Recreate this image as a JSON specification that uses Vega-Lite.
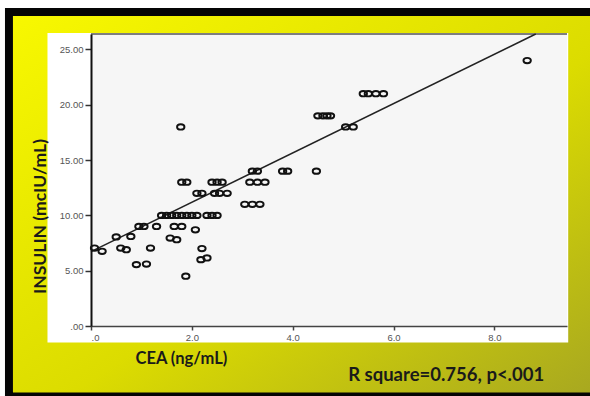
{
  "$schema": "https://vega.github.io/schema/vega-lite/v6.json",
  "width": 476,
  "height": 292,
  "autosize": {"type": "none"},
  "padding": {"left": 91, "top": 34, "right": 23, "bottom": 70},
  "background": "white",
  "config": {"view": {"stroke": null}, "font": "Lato"},
  "data": {"values": [{}]},
  "datasets": {
    "points": [
      {"CEA": 8.65, "INSULIN": 24},
      {"CEA": 5.4, "INSULIN": 21}, {"CEA": 5.5, "INSULIN": 21}, {"CEA": 5.65, "INSULIN": 21}, {"CEA": 5.8, "INSULIN": 21},
      {"CEA": 4.5, "INSULIN": 19}, {"CEA": 4.6, "INSULIN": 19}, {"CEA": 4.68, "INSULIN": 19}, {"CEA": 4.75, "INSULIN": 19},
      {"CEA": 5.05, "INSULIN": 18}, {"CEA": 5.2, "INSULIN": 18}, {"CEA": 1.78, "INSULIN": 18},
      {"CEA": 3.2, "INSULIN": 14}, {"CEA": 3.3, "INSULIN": 14}, {"CEA": 3.8, "INSULIN": 14}, {"CEA": 3.9, "INSULIN": 14}, {"CEA": 4.47, "INSULIN": 14},
      {"CEA": 1.8, "INSULIN": 13}, {"CEA": 1.9, "INSULIN": 13}, {"CEA": 2.4, "INSULIN": 13}, {"CEA": 2.5, "INSULIN": 13}, {"CEA": 2.6, "INSULIN": 13}, {"CEA": 3.15, "INSULIN": 13}, {"CEA": 3.3, "INSULIN": 13}, {"CEA": 3.45, "INSULIN": 13},
      {"CEA": 2.1, "INSULIN": 12}, {"CEA": 2.2, "INSULIN": 12}, {"CEA": 2.45, "INSULIN": 12}, {"CEA": 2.55, "INSULIN": 12}, {"CEA": 2.7, "INSULIN": 12},
      {"CEA": 3.05, "INSULIN": 11}, {"CEA": 3.2, "INSULIN": 11}, {"CEA": 3.35, "INSULIN": 11},
      {"CEA": 1.4, "INSULIN": 10}, {"CEA": 1.5, "INSULIN": 10}, {"CEA": 1.6, "INSULIN": 10}, {"CEA": 1.7, "INSULIN": 10}, {"CEA": 1.8, "INSULIN": 10}, {"CEA": 1.9, "INSULIN": 10}, {"CEA": 2.0, "INSULIN": 10}, {"CEA": 2.1, "INSULIN": 10}, {"CEA": 2.3, "INSULIN": 10}, {"CEA": 2.4, "INSULIN": 10}, {"CEA": 2.5, "INSULIN": 10},
      {"CEA": 0.95, "INSULIN": 9}, {"CEA": 1.05, "INSULIN": 9}, {"CEA": 1.3, "INSULIN": 9}, {"CEA": 1.65, "INSULIN": 9}, {"CEA": 1.8, "INSULIN": 9},
      {"CEA": 2.07, "INSULIN": 8.7},
      {"CEA": 0.5, "INSULIN": 8.05}, {"CEA": 0.79, "INSULIN": 8.1},
      {"CEA": 1.57, "INSULIN": 7.95}, {"CEA": 1.7, "INSULIN": 7.8},
      {"CEA": 0.07, "INSULIN": 7.05}, {"CEA": 0.59, "INSULIN": 7.05}, {"CEA": 1.18, "INSULIN": 7.05}, {"CEA": 2.2, "INSULIN": 7.0},
      {"CEA": 0.22, "INSULIN": 6.75}, {"CEA": 0.7, "INSULIN": 6.9},
      {"CEA": 2.18, "INSULIN": 6.0}, {"CEA": 2.3, "INSULIN": 6.15},
      {"CEA": 0.9, "INSULIN": 5.55}, {"CEA": 1.1, "INSULIN": 5.6},
      {"CEA": 1.88, "INSULIN": 4.5}
    ],
    "fit": [
      {"CEA": 0, "INSULIN": 6.72},
      {"CEA": 8.82, "INSULIN": 26.4}
    ]
  },
  "layer": [
    {
      "data": {"name": "points"},
      "mark": {
        "type": "point",
        "shape": "M -1 0 A 1 0.72 0 1 0 1 0 A 1 0.72 0 1 0 -1 0 Z",
        "filled": false,
        "strokeOpacity": 0,
        "size": 53
      },
      "encoding": {
        "x": {
          "field": "CEA", "type": "quantitative",
          "scale": {"domain": [0, 9.44], "nice": false, "zero": false},
          "axis": {
            "values": [0, 2, 4, 6, 8],
            "labelExpr": "datum.value == 0 ? '.0' : format(datum.value, '.1f')",
            "grid": false,
            "domainColor": "#444444", "domainWidth": 1.5,
            "tickColor": "#444444", "tickSize": 4, "tickWidth": 1.5,
            "labelFont": "Liberation Sans", "labelFontSize": 9.5, "labelColor": "#555555", "labelPadding": 2,
            "title": "CEA (ng/mL)",
            "titleFont": "Lato", "titleFontWeight": "bold", "titleFontSize": 16.5, "titleColor": "#1a1a1a",
            "titleX": 44, "titleY": 37, "titleAlign": "left", "titleBaseline": "alphabetic",
            "zindex": 1
          }
        },
        "y": {
          "field": "INSULIN", "type": "quantitative",
          "scale": {"domain": [0, 26.4], "nice": false, "zero": false},
          "axis": {
            "values": [0, 5, 10, 15, 20, 25],
            "labelExpr": "datum.value == 0 ? '.00' : format(datum.value, '.2f')",
            "grid": false,
            "domainColor": "#111111", "domainWidth": 2,
            "tickColor": "#333333", "tickSize": 6, "tickWidth": 1.5,
            "labelFont": "Liberation Sans", "labelFontSize": 9.5, "labelColor": "#555555", "labelPadding": 2,
            "title": "INSULIN (mcIU/mL)",
            "titleFont": "Lato", "titleFontWeight": "bold", "titleFontSize": 17.5, "titleColor": "#1a1a1a",
            "titleAngle": -90, "titleX": -51, "titleY": 182, "titleAlign": "center", "titleBaseline": "middle",
            "zindex": 1
          }
        }
      }
    },
    {
      "mark": {"type": "rect", "fill": "#050505"},
      "encoding": {
        "x": {"datum": -1.706, "type": "quantitative"},
        "x2": {"datum": 9.95},
        "y": {"datum": -6.4, "type": "quantitative"},
        "y2": {"datum": 28.76}
      }
    },
    {
      "mark": {
        "type": "rect",
        "fill": {
          "gradient": "linear", "x1": 0, "y1": 0, "x2": 1, "y2": 1,
          "stops": [
            {"offset": 0, "color": "#f8f800"},
            {"offset": 0.55, "color": "#dcdc00"},
            {"offset": 1, "color": "#a8a820"}
          ]
        }
      },
      "encoding": {
        "x": {"datum": -1.548, "type": "quantitative"},
        "x2": {"datum": 9.95},
        "y": {"datum": -6.02, "type": "quantitative"},
        "y2": {"datum": 28.03}
      }
    },
    {
      "mark": {"type": "rect", "fill": "#ffffff"},
      "encoding": {
        "x": {"datum": -0.863, "type": "quantitative"},
        "x2": {"datum": 9.464},
        "y": {"datum": -1.49, "type": "quantitative"},
        "y2": {"datum": 26.5}
      }
    },
    {
      "mark": {"type": "rect", "fill": "#f6f6f6"},
      "encoding": {
        "x": {"datum": 0, "type": "quantitative"},
        "x2": {"datum": 9.44},
        "y": {"datum": 0, "type": "quantitative"},
        "y2": {"datum": 26.4}
      }
    },
    {
      "mark": {"type": "rule", "color": "#555555", "strokeWidth": 1.5},
      "encoding": {
        "x": {"datum": 0, "type": "quantitative"},
        "x2": {"datum": 9.44},
        "y": {"datum": 26.4, "type": "quantitative"}
      }
    },
    {
      "data": {"name": "fit"},
      "mark": {"type": "line", "color": "#222222", "strokeWidth": 1.5},
      "encoding": {
        "x": {"field": "CEA", "type": "quantitative"},
        "y": {"field": "INSULIN", "type": "quantitative"}
      }
    },
    {
      "data": {"name": "points"},
      "mark": {
        "type": "point",
        "shape": "M -1 0 A 1 0.72 0 1 0 1 0 A 1 0.72 0 1 0 -1 0 Z",
        "filled": false,
        "stroke": "#111111",
        "strokeWidth": 1.9,
        "size": 55,
        "opacity": 1
      },
      "encoding": {
        "x": {"field": "CEA", "type": "quantitative"},
        "y": {"field": "INSULIN", "type": "quantitative"}
      }
    },
    {
      "mark": {"type": "text", "text": "R square=0.756, p<.001", "font": "Lato", "fontWeight": "bold", "fontSize": 18.5, "color": "#1a1a1a", "align": "left", "baseline": "alphabetic"},
      "encoding": {
        "x": {"datum": 5.1, "type": "quantitative"},
        "y": {"datum": -4.94, "type": "quantitative"}
      }
    }
  ]
}
